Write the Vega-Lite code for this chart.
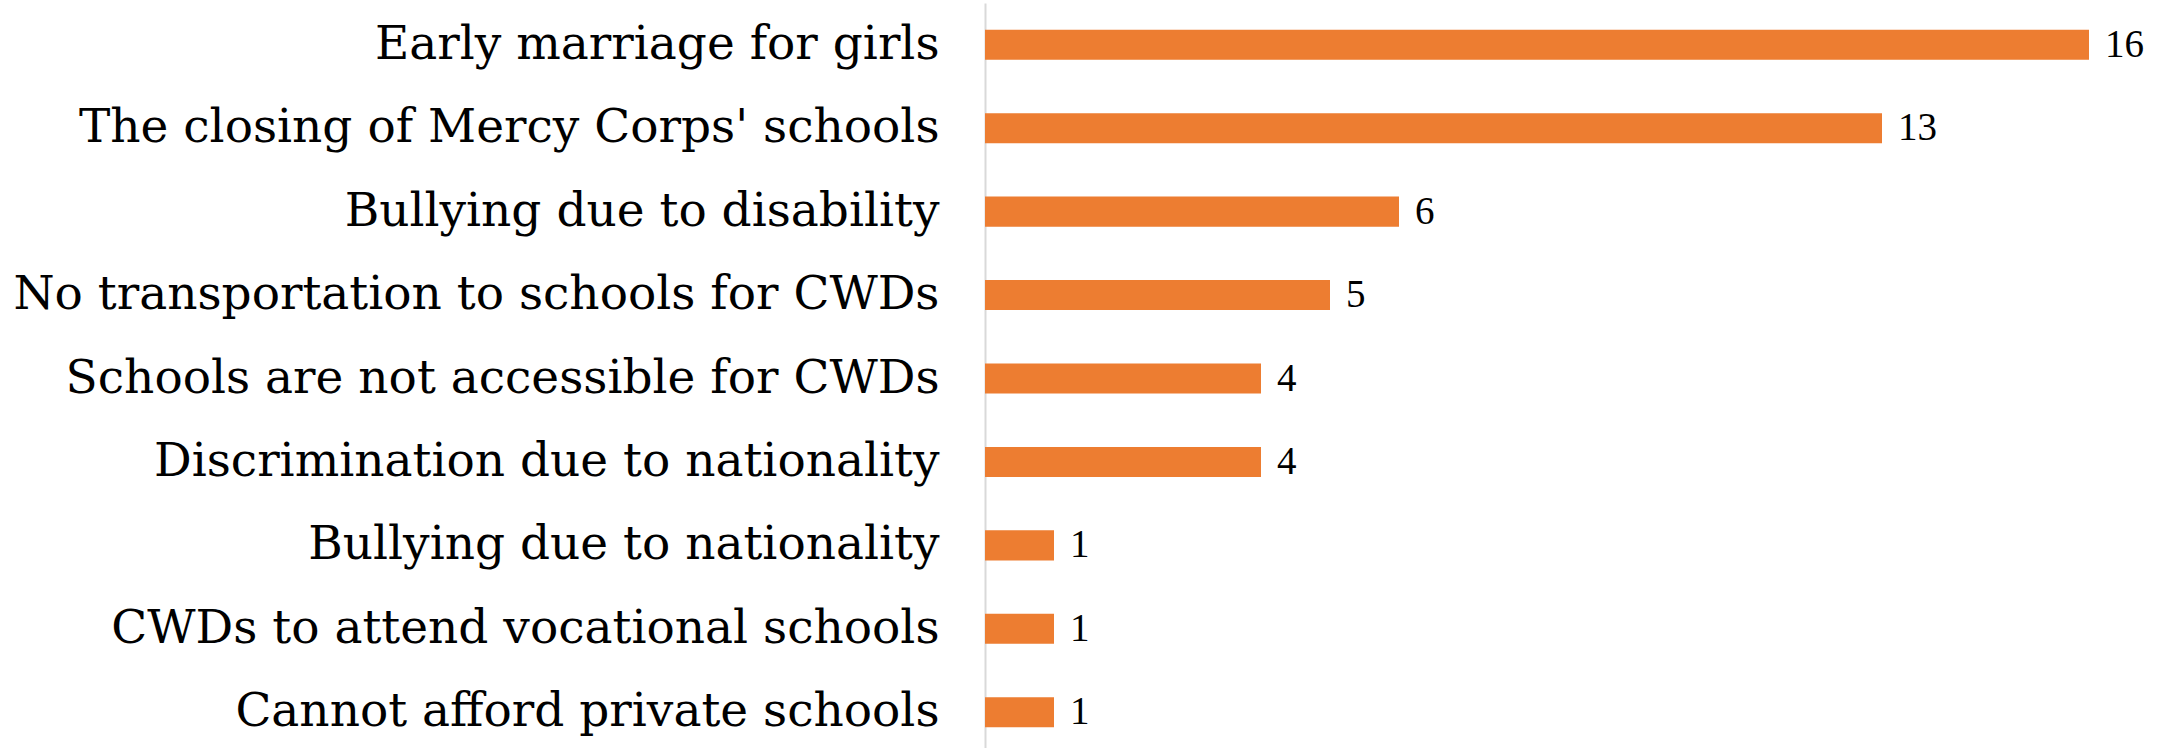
{
  "$schema": "https://vega.github.io/schema/vega-lite/v6.json",
  "autosize": {"type": "none"},
  "padding": {"left": 985, "top": 3, "right": 0, "bottom": 0},
  "width": 1173,
  "height": 751,
  "background": "white",
  "config": {"view": {"stroke": null}},
  "data": {"values": [
    {"reason": "Early marriage for girls", "count": 16},
    {"reason": "The closing of Mercy Corps' schools", "count": 13},
    {"reason": "Bullying due to disability", "count": 6},
    {"reason": "No transportation to schools for CWDs", "count": 5},
    {"reason": "Schools are not accessible for CWDs", "count": 4},
    {"reason": "Discrimination due to nationality", "count": 4},
    {"reason": "Bullying due to nationality", "count": 1},
    {"reason": "CWDs to attend vocational schools\u00a0", "count": 1},
    {"reason": "Cannot afford private schools", "count": 1}
  ]},
  "encoding": {
    "y": {
      "field": "reason", "type": "nominal", "sort": null,
      "scale": {"paddingInner": 0.64, "paddingOuter": 0.32},
      "axis": {
        "title": null, "ticks": false, "domainColor": "#d9d9d9", "domainWidth": 2,
        "labelFont": "DejaVu Serif", "labelFontSize": 47, "labelColor": "#000000",
        "labelPadding": 46, "labelLimit": 0
      }
    },
    "x": {
      "field": "count", "type": "quantitative",
      "scale": {"domain": [0, 17], "nice": false},
      "axis": null
    }
  },
  "layer": [
    {"mark": {"type": "bar", "color": "#ED7D31"}},
    {"mark": {"type": "text", "align": "left", "baseline": "middle", "dx": 16, "font": "Liberation Serif", "fontSize": 39, "color": "#000000"},
     "encoding": {"text": {"field": "count", "type": "quantitative"}}}
  ]
}
